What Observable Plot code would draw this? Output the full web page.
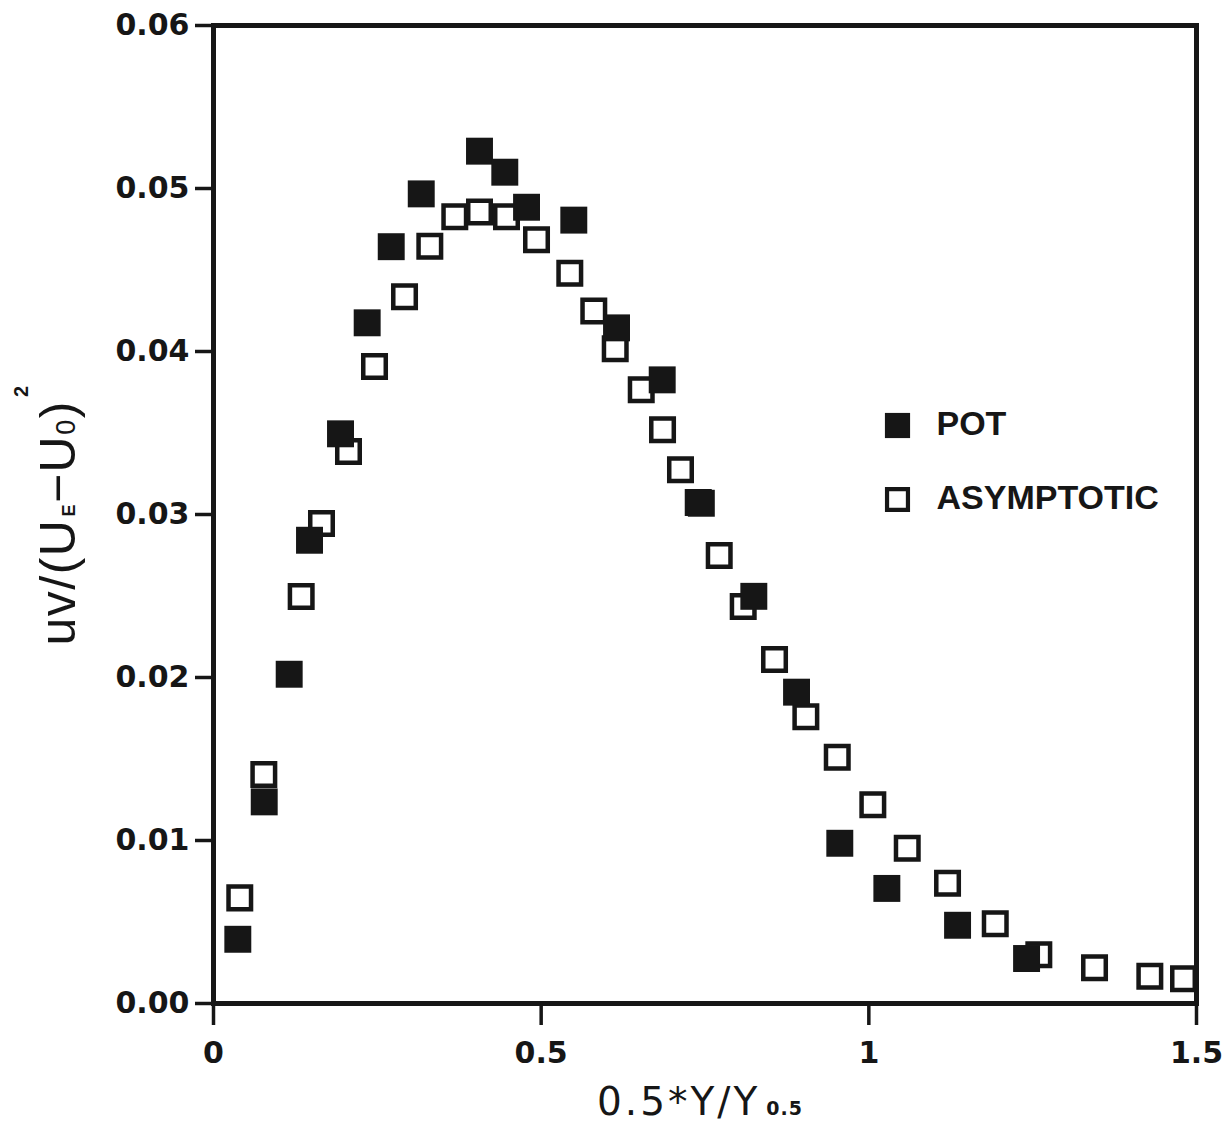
<!DOCTYPE html>
<html>
<head>
<meta charset="utf-8">
<script src="https://cdn.jsdelivr.net/npm/d3@7"></script>
<script src="https://cdn.jsdelivr.net/npm/@observablehq/plot@0.6"></script>
<style>
  html, body { margin: 0; padding: 0; background: #fff; }
  #chart { width: 1223px; height: 1141px; }
</style>
</head>
<body>
<div id="chart"></div>
<script>
// ---- Data ----
const potX = [0.0371, 0.0774, 0.1155, 0.1465, 0.1938, 0.2345, 0.2712, 0.3170, 0.4059, 0.4445, 0.4777,
              0.5498, 0.6150, 0.6847, 0.7444, 0.8245, 0.8897, 0.9557, 1.0275, 1.1354, 1.2407];
const potY = [0.00394, 0.01237, 0.0202, 0.02842, 0.03495, 0.04176, 0.04643, 0.04967, 0.05229, 0.0510, 0.04885,
              0.04806, 0.04145, 0.03826, 0.03069, 0.02498, 0.0191, 0.00983, 0.00706, 0.0048, 0.00276];

const asyX = [0.0401, 0.0768, 0.1338, 0.1648, 0.2060, 0.2457, 0.2915, 0.3301, 0.3682, 0.4059, 0.4471,
              0.4929, 0.5437, 0.5803, 0.6130, 0.6527, 0.6852, 0.7126, 0.7397, 0.7717, 0.8083, 0.8561,
              0.9039, 0.9518, 1.0061, 1.0586, 1.1201, 1.1929, 1.2594, 1.3444, 1.4288, 1.4802];
const asyY = [0.00648, 0.01405, 0.02497, 0.02945, 0.03387, 0.03908, 0.04336, 0.04645, 0.04827, 0.04856, 0.04826,
              0.04685, 0.0448, 0.04248, 0.04017, 0.03765, 0.0352, 0.03274, 0.03074, 0.02748, 0.02436, 0.0211,
              0.01759, 0.01511, 0.01219, 0.00953, 0.00738, 0.00489, 0.00299, 0.00219, 0.00167, 0.00152];

const xTicks = [0, 0.5, 1, 1.5];
const xTickLabels = ["0", "0.5", "1", "1.5"];
const yTicks = [0, 0.01, 0.02, 0.03, 0.04, 0.05, 0.06];
const yTickLabels = ["0.00", "0.01", "0.02", "0.03", "0.04", "0.05", "0.06"];
const legendNames = ["POT", "ASYMPTOTIC"];

// ---- Build tables ----
const pot = potX.map((x, i) => ({x, y: potY[i]}));
const asy = asyX.map((x, i) => ({x, y: asyY[i]}));

const INK = "#161616";
const legendMarks = [];
legendNames.forEach((name, i) => {
  const dy = 400 + i * 74;
  if (i === 0) {
    legendMarks.push(Plot.dot([name], {frameAnchor: "top-left", dx: 684, dy, symbol: "square", r: 14.2, fill: INK}));
  } else {
    legendMarks.push(Plot.dot([name], {frameAnchor: "top-left", dx: 684, dy, symbol: "square", r: 11.8, fill: "white", stroke: INK, strokeWidth: 4.2}));
  }
  legendMarks.push(Plot.text([name], {frameAnchor: "top-left", lineAnchor: "middle", dx: 723, dy: dy - 1, text: d => d, textAnchor: "start",
    fontSize: 34, fontWeight: "bold", fontFamily: "Liberation Sans", fill: INK}));
});

const svg = Plot.plot({
  width: 1223,
  height: 1141,
  marginLeft: 213,
  marginRight: 27,
  marginTop: 25,
  marginBottom: 138,
  style: {fontFamily: "DejaVu Sans", background: "white", color: INK},
  x: {domain: [0, 1.5]},
  y: {domain: [0, 0.06]},
  marks: [
    Plot.axisY({ticks: yTicks, tickFormat: d => yTickLabels[yTicks.indexOf(d)], tickSize: 18, tickPadding: 6,
      strokeWidth: 3.5, fontSize: 30, fontWeight: "bold", label: null, fill: INK, stroke: INK}),
    Plot.axisX({ticks: xTicks, tickFormat: d => xTickLabels[xTicks.indexOf(d)], tickSize: 22, tickPadding: 16,
      strokeWidth: 3.5, fontSize: 30, fontWeight: "bold", label: null, fill: INK, stroke: INK}),
    Plot.dot(asy, {x: "x", y: "y", symbol: "square", r: 12.7, fill: "white", stroke: INK, strokeWidth: 4.5}),
    Plot.dot(pot, {x: "x", y: "y", symbol: "square", r: 15.2, fill: INK}),
    Plot.frame({stroke: INK, strokeWidth: 5}),
    ...legendMarks
  ]
});

// ---- Axis titles with sub/superscripts ----
const s = d3.select(svg);
const yl = s.append("text")
  .attr("transform", "translate(75,515) rotate(-90)")
  .attr("text-anchor", "middle")
  .attr("fill", INK)
  .attr("font-family", "Liberation Sans")
  .attr("font-size", 50)
  .attr("letter-spacing", 1.5);
yl.append("tspan").text("uv/(U");
yl.append("tspan").attr("font-size", 18).attr("font-weight", "bold").attr("dx", 2).text("E");
yl.append("tspan").text("\u2212U");
yl.append("tspan").attr("font-size", 27).text("0");
yl.append("tspan").text(")");
yl.append("tspan").attr("font-size", 20).attr("font-weight", "bold").attr("dy", -47).attr("dx", 3).text("2");

const xl = s.append("text")
  .attr("x", 700)
  .attr("y", 1115)
  .attr("text-anchor", "middle")
  .attr("fill", INK)
  .attr("font-family", "DejaVu Sans")
  .attr("font-size", 39)
  .attr("letter-spacing", 3);
xl.append("tspan").text("0.5*Y/Y");
xl.append("tspan").attr("dx", 6).attr("font-size", 19).attr("font-weight", "bold").attr("letter-spacing", 1).text("0.5");

document.getElementById("chart").appendChild(svg);
</script>
</body>
</html>
